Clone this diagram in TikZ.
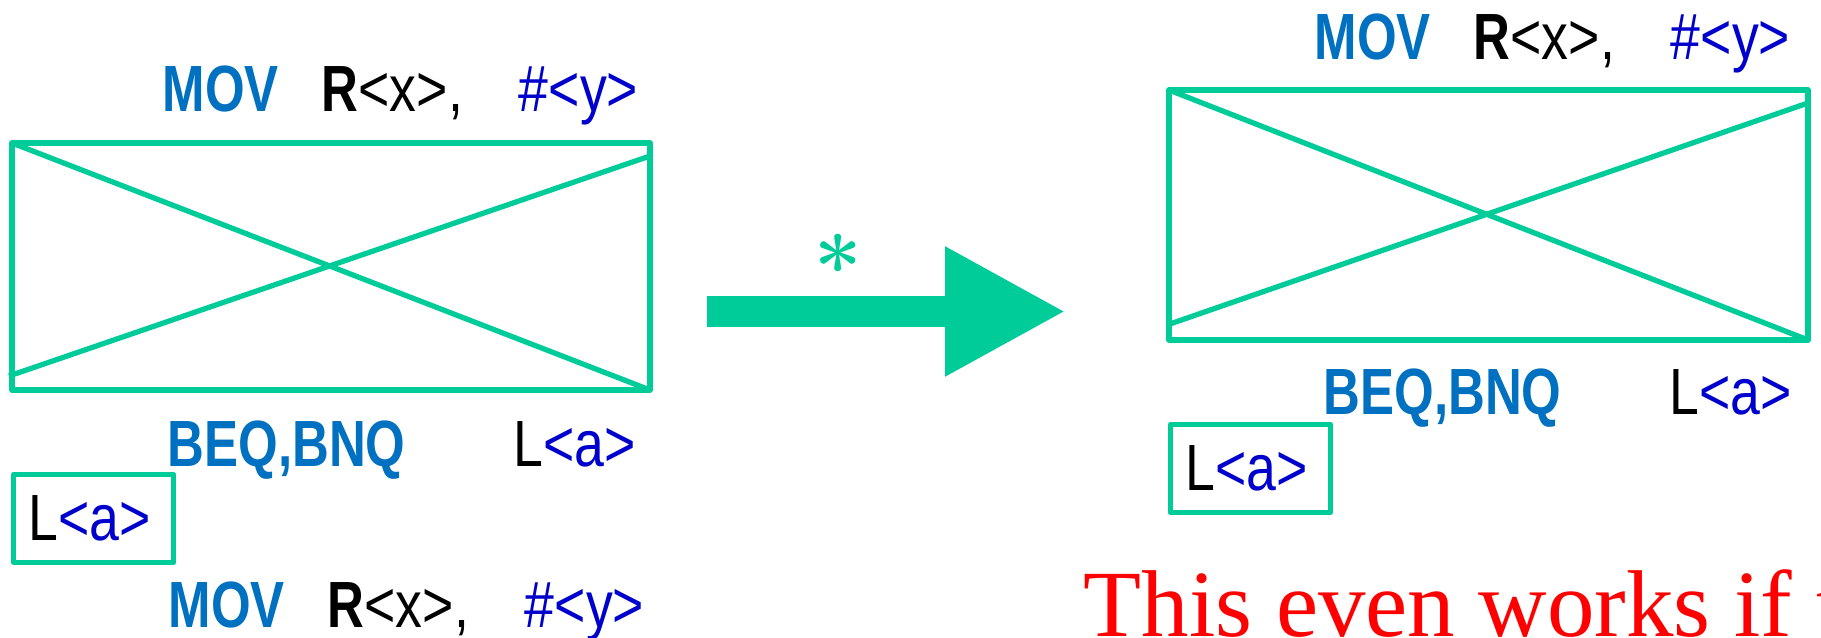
\documentclass[tikz,border=0pt]{standalone}
\usepackage{fontspec}
\usetikzlibrary{arrows.meta}
\newfontfamily\narrowfont[FakeStretch=0.82]{Liberation Sans}
\newfontfamily\narrowbold[FakeStretch=0.78]{Liberation Sans}
\newfontfamily\timesfont{Liberation Serif}
\definecolor{boxgreen}{RGB}{0,204,153}
\definecolor{opblue}{RGB}{0,112,192}
\definecolor{argblue}{RGB}{0,0,204}

\begin{document}
\begin{tikzpicture}[x=1cm,y=1cm,line width=1.5pt,line join=round,
  lbl/.style={anchor=base west,inner sep=0pt,font=\narrowfont\fontsize{18.6}{20}\selectfont},
  labbox/.style={draw=boxgreen,anchor=south west,inner xsep=.15cm,inner ysep=0pt,
    text width=1.3cm,minimum height=.88cm,align=left,font=\narrowfont\fontsize{18.6}{20}\selectfont}]
  \clip (0,0) rectangle (18.21,6.38);
  % before: crossed-out block
  \coordinate (ltl) at (.12,4.95);
  \coordinate (lbr) at (6.50,2.48);
  \draw[boxgreen] (ltl) rectangle (lbr);
  \draw[boxgreen] (ltl)--(lbr);
  \draw[boxgreen] (.09,2.62)--(6.50,4.82);
  \node[lbl] (movtl) at (1.60,5.26) {{\narrowbold\bfseries\color{opblue}MOV}\hspace{.43cm}{\narrowbold\bfseries R}<x>,\hspace{.56cm}\textcolor{argblue}{\#<y>}};
  \node[lbl] (beql) at (1.65,1.71) {{\narrowbold\bfseries\color{opblue}BEQ,BNQ}\hspace{1.08cm}L\textcolor{argblue}{<a>}};
  \node[labbox] (tgtl) at (.11,.73) {L\textcolor{argblue}{<a>}};
  \node[lbl] (movbl) at (1.66,.10) {{\narrowbold\bfseries\color{opblue}MOV}\hspace{.43cm}{\narrowbold\bfseries R}<x>,\hspace{.56cm}\textcolor{argblue}{\#<y>}};
  % rewrite arrow
  \coordinate (ashaft) at (7.07,3.265);
  \coordinate (atip) at (10.66,3.265);
  \draw[boxgreen,line width=.31cm,-{Triangle[length=1.21cm,width=1.21cm]}] (ashaft)--(atip);
  \node[text=boxgreen,font=\bfseries\fontsize{24}{24}\selectfont] (star) at (8.38,3.72) {*};
  % after: moved block
  \coordinate (rtl) at (11.69,5.48);
  \coordinate (rbr) at (18.08,2.98);
  \draw[boxgreen] (rtl) rectangle (rbr);
  \draw[boxgreen] (rtl)--(rbr);
  \draw[boxgreen] (11.67,3.13)--(18.08,5.35);
  \node[lbl] (movtr) at (13.12,5.78) {{\narrowbold\bfseries\color{opblue}MOV}\hspace{.43cm}{\narrowbold\bfseries R}<x>,\hspace{.56cm}\textcolor{argblue}{\#<y>}};
  \node[lbl] (beqr) at (13.21,2.23) {{\narrowbold\bfseries\color{opblue}BEQ,BNQ}\hspace{1.08cm}L\textcolor{argblue}{<a>}};
  \node[labbox] (tgtr) at (11.68,1.23) {L\textcolor{argblue}{<a>}};
  \node[anchor=base west,inner sep=0pt,text=red,font=\timesfont\fontsize{27}{30}\selectfont] (note) at (10.81,.01) {This even works if t};
\end{tikzpicture}
\end{document}
